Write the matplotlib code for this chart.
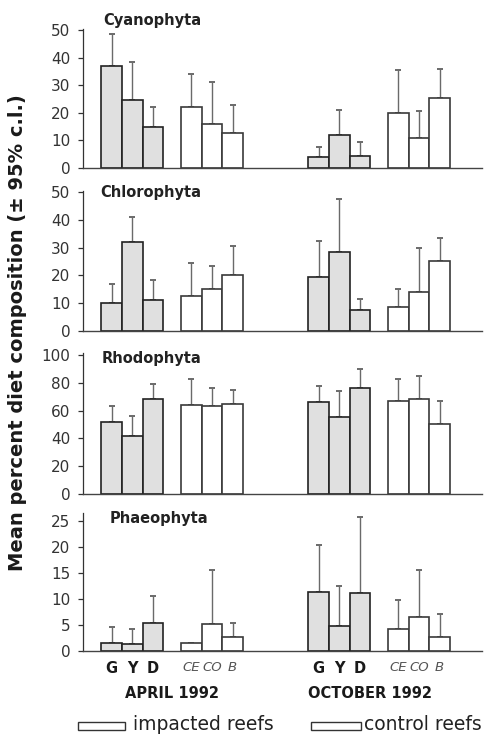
import numpy as np
import matplotlib
matplotlib.use("Agg")
import matplotlib.pyplot as plt
from matplotlib.patches import Rectangle
from matplotlib.transforms import blended_transform_factory

plt.rcParams['font.family'] = ['DejaVu Sans']

# ---------------- data ----------------
sites = ["G", "Y", "D", "CE", "CO", "B"]
seasons = ["APRIL 1992", "OCTOBER 1992"]
taxa = ["Cyanophyta", "Chlorophyta", "Rhodophyta", "Phaeophyta"]

# means and upper 95% c.l. (order G, Y, D, CE, CO, B)
cyano_apr_mean = [37, 24.5, 15, 22, 16, 12.5]
cyano_apr_upper = [48.5, 38.5, 22, 34, 31, 23]
cyano_oct_mean = [4, 12, 4.5, 20, 11, 25.5]
cyano_oct_upper = [7.5, 21, 9.5, 35.5, 20.5, 36]

chloro_apr_mean = [10, 32, 11, 12.5, 15, 20]
chloro_apr_upper = [17, 41, 18.5, 24.5, 23.5, 30.5]
chloro_oct_mean = [19.5, 28.5, 7.5, 8.5, 14, 25]
chloro_oct_upper = [32.5, 47.5, 11.5, 15, 30, 33.5]

rhodo_apr_mean = [51.5, 42, 68, 64, 63, 65]
rhodo_apr_upper = [63, 56, 79, 83, 76, 75]
rhodo_oct_mean = [66, 55.5, 76.5, 67, 68, 50]
rhodo_oct_upper = [78, 74, 90, 83, 85, 67]

phaeo_apr_mean = [1.6, 1.4, 5.3, 1.6, 5.1, 2.7]
phaeo_apr_upper = [4.7, 4.2, 10.5, 1.6, 15.5, 5.3]
phaeo_oct_mean = [11.3, 4.8, 11.1, 4.3, 6.6, 2.7]
phaeo_oct_upper = [20.3, 12.5, 25.8, 9.8, 15.5, 7.2]

panels = [
    ("Cyanophyta", [(cyano_apr_mean, cyano_apr_upper), (cyano_oct_mean, cyano_oct_upper)], 50.5, [0, 10, 20, 30, 40, 50]),
    ("Chlorophyta", [(chloro_apr_mean, chloro_apr_upper), (chloro_oct_mean, chloro_oct_upper)], 50.5, [0, 10, 20, 30, 40, 50]),
    ("Rhodophyta", [(rhodo_apr_mean, rhodo_apr_upper), (rhodo_oct_mean, rhodo_oct_upper)], 101.5, [0, 20, 40, 60, 80, 100]),
    ("Phaeophyta", [(phaeo_apr_mean, phaeo_apr_upper), (phaeo_oct_mean, phaeo_oct_upper)], 26.5, [0, 5, 10, 15, 20, 25]),
]

# ---------------- layout ----------------
site_offsets = np.array([0, 1, 2, 3.85, 4.85, 5.85])
season_offsets = [0, 10]
impacted_fill = "#e0e0e0"
control_fill = "#ffffff"
fills = [impacted_fill] * 3 + [control_fill] * 3
edges = ["#222222"] * 3 + ["#3a3a3a"] * 3

W, H = 488, 737
fig = plt.figure(figsize=(W / 100, H / 100), dpi=100)

# (zero px, top px) for each panel
panel_px = [(168, 28.6), (331, 190.6), (494, 352.9), (651, 513.2)]
title_px = [(103, 21), (100, 192), (102, 358), (110, 518)]
left_px, right_px = 83, 482
xlim = ((left_px - 111.5) / 20.7, (right_px - 111.5) / 20.7)

axes = []
for (name, data, ytop, yticks), (zero_px, top_px), (tx, ty) in zip(panels, panel_px, title_px):
    ax = fig.add_axes([left_px / W, 1 - zero_px / H, (right_px - left_px) / W, (zero_px - top_px) / H])
    axes.append(ax)
    for s, (mean, upper) in enumerate(data):
        x = season_offsets[s] + site_offsets
        mean = np.array(mean, dtype=float)
        upper = np.array(upper, dtype=float)
        ax.errorbar(x, mean, yerr=[np.zeros_like(mean), upper - mean], fmt='none',
                    ecolor='#6a6a6a', elinewidth=1.0, capsize=2.2, capthick=1.4, zorder=1)
        ax.bar(x, mean, width=1.0, color=fills, edgecolor=edges, linewidth=1.2, zorder=2)
    ax.set_xlim(*xlim)
    ax.set_ylim(0, ytop)
    ax.set_yticks(yticks)
    ax.tick_params(axis='y', length=3.5, width=0.9, color='#333333', labelsize=11, labelcolor='#333333', pad=5.5)
    ax.tick_params(axis='x', length=0)
    ax.set_xticks([])
    for sp in ['top', 'right']:
        ax.spines[sp].set_visible(False)
    ax.spines['left'].set_color('#333333')
    ax.spines['bottom'].set_color('#444444')
    ax.spines['left'].set_linewidth(0.9)
    ax.spines['bottom'].set_linewidth(1.0)
    ax.patch.set_alpha(0)
    fig.text(tx / W, 1 - ty / H, name, fontsize=10.5, fontweight='bold',
             color='#222222', ha='left', va='center')

# bottom site labels
ax4 = axes[-1]
positions = np.concatenate([season_offsets[0] + site_offsets, season_offsets[1] + site_offsets])
ax4.set_xticks(positions)
ax4.set_xticklabels(sites * 2)
ax4.tick_params(axis='x', length=0, pad=7)
for i, lab in enumerate(ax4.get_xticklabels()):
    if i % 6 < 3:
        lab.set_fontweight('bold')
        lab.set_fontsize(10.5)
        lab.set_color('#1a1a1a')
    else:
        lab.set_fontstyle('italic')
        lab.set_fontsize(9.5)
        lab.set_color('#555555')

trans = blended_transform_factory(ax4.transData, fig.transFigure)
season_centres = [season_offsets[0] + 2.9, season_offsets[1] + 2.5]
for xc, lab in zip(season_centres, seasons):
    ax4.text(xc, 1 - 694 / H, lab, transform=trans, ha='center', va='center',
             fontsize=10.5, fontweight='bold', color='#1a1a1a', clip_on=False)

# y label
fig.text(18 / W, 1 - 333 / H, "Mean percent diet composition (± 95% c.l.)", rotation=90,
         ha='center', va='center', fontsize=14, fontweight='bold', color='#1a1a1a')

# legend
legend_items = [("impacted reefs", 78, 47, 133), ("control reefs", 311, 50, 364)]
for label, rx, rw, tx in legend_items:
    fig.add_artist(Rectangle((rx / W, 1 - 730 / H), rw / W, 8 / H, transform=fig.transFigure,
                             facecolor='white', edgecolor='#333333', linewidth=1.0))
    fig.text(tx / W, 1 - 724 / H, label, ha='left', va='center', fontsize=13.5, color='#222222')

fig.savefig("out.png", dpi=100, facecolor='white')
